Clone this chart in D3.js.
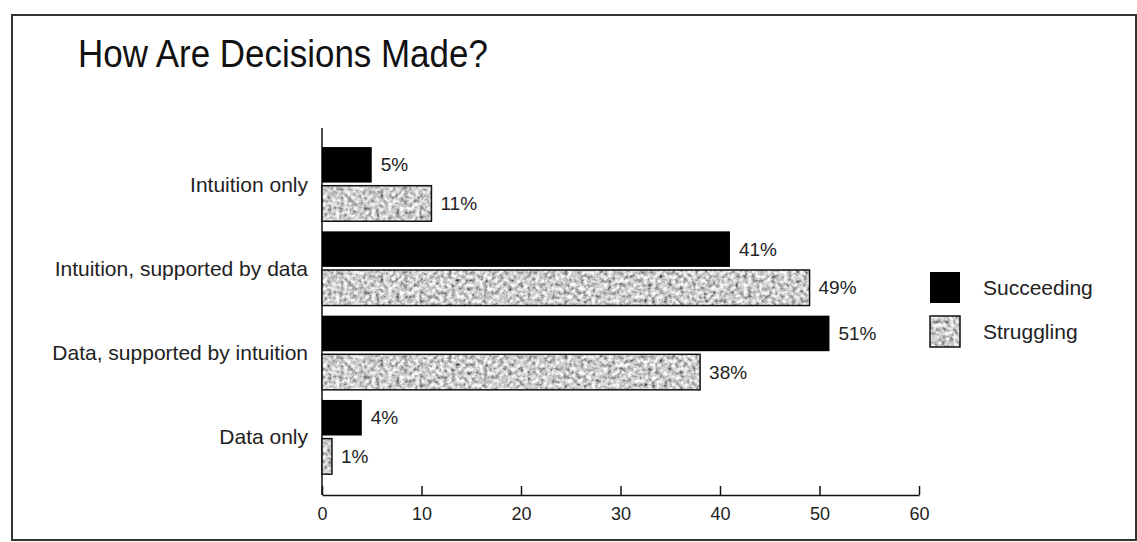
<!DOCTYPE html>
<html>
<head>
<meta charset="utf-8">
<script src="https://cdn.jsdelivr.net/npm/d3@7"></script>
<style>
  body { margin: 0; background: #fff; }
  svg { display: block; font-family: "Liberation Sans", Arial, sans-serif; }
</style>
</head>
<body>
<div id="chart"></div>
<script>

const categories = ['Intuition only', 'Intuition, supported by data', 'Data, supported by intuition', 'Data only'];
const seriesNames = ['Succeeding', 'Struggling'];
const succeeding = [5, 41, 51, 4];
const struggling = [11, 49, 38, 1];
const xTicks = [0, 10, 20, 30, 40, 50, 60];
const title = 'How Are Decisions Made?';

function DecisionsGraph(divID) {
  const widthContainer  = 1137;
  const heightContainer = 542;
  const axisLeft   = 322;
  const axisRight  = 919;
  const axisBottom = 495;
  const axisTop    = 128;

  const rows = categories.map((c, i) => ({category: c, values: [
    {series: seriesNames[0], value: succeeding[i]},
    {series: seriesNames[1], value: struggling[i]}
  ]}));

  d3.select('#' + divID).selectAll('svg').remove();

  let svg = d3.select('#' + divID)
    .append('svg')
    .attr('width',  widthContainer)
    .attr('height', heightContainer);

  // grainy grey fill like the printed screen tone
  let defs = svg.append('defs');
  let filter = defs.append('filter')
    .attr('id', 'grain')
    .attr('x', 0).attr('y', 0).attr('width', 1).attr('height', 1);
  filter.append('feTurbulence')
    .attr('type', 'fractalNoise')
    .attr('baseFrequency', 0.25)
    .attr('numOctaves', 4)
    .attr('seed', 5)
    .attr('result', 'noise');
  filter.append('feColorMatrix')
    .attr('in', 'noise')
    .attr('type', 'matrix')
    .attr('values', '1.5 0 0 0 -0.14  1.5 0 0 0 -0.14  1.5 0 0 0 -0.14  0 0 0 0 1')
    .attr('result', 'grey');
  filter.append('feComposite')
    .attr('in', 'grey')
    .attr('in2', 'SourceGraphic')
    .attr('operator', 'in');

  // outer frame
  svg.append('rect')
    .attr('x', 12).attr('y', 15)
    .attr('width', 1124).attr('height', 525)
    .style('fill', 'none')
    .style('stroke', '#333')
    .style('stroke-width', 2);

  // title, squeezed a little to look condensed
  svg.append('text')
    .attr('transform', 'translate(78, 67) scale(0.92, 1)')
    .style('font-size', '38px')
    .style('fill', '#111')
    .text(title);

  let xScale = d3.scaleLinear()
    .domain([0, 60])
    .range([axisLeft, axisRight]);

  let yScale = d3.scaleBand()
    .domain(categories)
    .range([142, 479.2])
    .paddingInner(0.12)
    .paddingOuter(0.06);

  let subScale = d3.scaleBand()
    .domain(seriesNames)
    .range([0, yScale.bandwidth()])
    .paddingInner(0.08);

  // x-axis, ticks pointing up
  let xAxis = svg.append('g')
    .attr('class', 'x-axis')
    .attr('transform', `translate(0, ${axisBottom})`)
    .call(d3.axisBottom(xScale).tickValues(xTicks).tickSizeInner(-9).tickSizeOuter(0).tickPadding(12));
  xAxis.attr('font-family', null).attr('font-size', '18px');
  xAxis.selectAll('line, path').style('stroke', '#111').style('stroke-width', 1.5);
  xAxis.selectAll('.tick text')
    .attr('font-size', '18px')
    .style('font-size', '18px')
    .style('fill', '#222');

  // y-axis line
  svg.append('line')
    .attr('x1', axisLeft).attr('x2', axisLeft)
    .attr('y1', axisTop).attr('y2', axisBottom)
    .style('stroke', '#111')
    .style('stroke-width', 1.5);

  // category labels
  svg.selectAll('.cat-label')
    .data(categories)
    .enter()
    .append('text')
      .attr('class', 'cat-label')
      .attr('x', 308)
      .attr('y', d => yScale(d) + yScale.bandwidth() / 2)
      .attr('dy', '0.35em')
      .style('text-anchor', 'end')
      .style('font-size', '21px')
      .style('fill', '#222')
      .text(d => d);

  let groups = svg.selectAll('.group')
    .data(rows)
    .enter()
    .append('g')
      .attr('class', 'group')
      .attr('transform', d => `translate(0, ${yScale(d.category)})`);

  let bars = groups.selectAll('.bar')
    .data(d => d.values)
    .enter()
    .append('g')
      .attr('class', 'bar');

  bars.append('rect')
    .attr('x',      xScale(0))
    .attr('y',      d => subScale(d.series))
    .attr('width',  d => xScale(d.value) - xScale(0))
    .attr('height', subScale.bandwidth())
    .style('fill',   d => d.series === 'Succeeding' ? '#000' : '#fff')
    .attr('filter', d => d.series === 'Succeeding' ? null : 'url(#grain)');

  bars.filter(d => d.series === 'Struggling')
    .append('rect')
      .attr('x',      xScale(0))
      .attr('y',      d => subScale(d.series))
      .attr('width',  d => xScale(d.value) - xScale(0))
      .attr('height', subScale.bandwidth())
      .style('fill', 'none')
      .style('stroke', '#111')
      .style('stroke-width', 1.5);

  bars.append('text')
    .attr('x',  d => xScale(d.value) + 9)
    .attr('y',  d => subScale(d.series) + subScale.bandwidth() / 2)
    .attr('dy', '0.35em')
    .style('font-size', '19px')
    .style('fill', '#222')
    .text(d => d.value + '%');

  // legend
  let legend = svg.selectAll('.legend')
    .data(seriesNames)
    .enter()
    .append('g')
      .attr('class', 'legend')
      .attr('transform', (d, i) => `translate(930, ${272 + i * 44})`);

  legend.append('rect')
    .attr('width', 30)
    .attr('height', 31)
    .style('fill', d => d === 'Succeeding' ? '#000' : '#fff')
    .attr('filter', d => d === 'Succeeding' ? null : 'url(#grain)');

  legend.filter(d => d === 'Struggling')
    .append('rect')
      .attr('width', 30)
      .attr('height', 31)
      .style('fill', 'none')
      .style('stroke', '#111')
      .style('stroke-width', 1.5);

  legend.append('text')
    .attr('x', 53)
    .attr('y', 15.5)
    .attr('dy', '0.35em')
    .style('font-size', '21px')
    .style('fill', '#222')
    .text(d => d);
}

DecisionsGraph('chart');
</script>
</body>
</html>
